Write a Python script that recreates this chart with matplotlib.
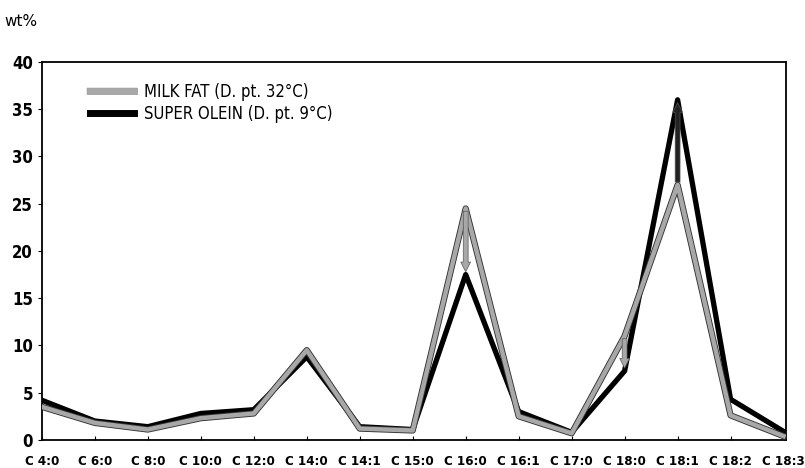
import matplotlib.pyplot as plt
import matplotlib.patheffects as pe
import numpy as np

acids = ["C 4:0", "C 6:0", "C 8:0", "C 10:0", "C 12:0", "C 14:0", "C 14:1", "C 15:0",
         "C 16:0", "C 16:1", "C 17:0", "C 18:0", "C 18:1", "C 18:2", "C 18:3"]
milk_fat = [3.5, 1.8, 1.1, 2.3, 2.8, 9.5, 1.2, 1.0, 24.5, 2.5, 0.7, 11.0, 27.0, 2.6, 0.4]
super_olein = [4.2, 2.0, 1.4, 2.8, 3.2, 8.8, 1.4, 1.1, 17.5, 3.0, 0.8, 7.3, 36.0, 4.3, 0.9]
arrow_idx = [8, 11, 12]

x = np.arange(len(acids))
fig = plt.figure(figsize=(8.05, 4.68), dpi=100)
ax = fig.add_axes([0.052, 0.06, 0.924, 0.8075])

gray_fx = [pe.Stroke(linewidth=4.5, foreground="#333333"), pe.Normal()]
ax.plot(x, milk_fat, color="#a8a8a8", lw=3.2, solid_joinstyle="round",
        path_effects=gray_fx, label="MILK FAT (D. pt. 32°C)", zorder=3)
ax.plot(x, super_olein, color="black", lw=3.8, solid_joinstyle="round",
        label="SUPER OLEIN (D. pt. 9°C)", zorder=2)

for i in arrow_idx:
    col = "#a8a8a8" if super_olein[i] < milk_fat[i] else "#222222"
    ax.annotate("", xy=(x[i], super_olein[i]), xytext=(x[i], milk_fat[i]),
                arrowprops=dict(arrowstyle="simple,head_width=0.7,head_length=0.7,tail_width=0.35",
                                color=col, lw=0.5, ec="#555555"), zorder=4)

ax.set_xlim(0, 14.04)
ax.set_ylim(0, 40)
ax.set_yticks(range(0, 41, 5))
ax.set_xticks(x)
ax.set_xticklabels(acids, family="DejaVu Sans", fontstretch="condensed",
                   fontsize=9.5, fontweight="bold")
ax.tick_params(axis="y", labelsize=12, length=3, direction="out")
ax.tick_params(axis="x", length=3, direction="in", pad=11)
for lab in ax.get_yticklabels():
    lab.set_fontweight("bold")
    lab.set_fontstretch("condensed")
for s in ax.spines.values():
    s.set_linewidth(1.3)

leg = ax.legend(loc="upper left", bbox_to_anchor=(0.045, 0.985), frameon=False,
                handlelength=2.6, handletextpad=0.6, labelspacing=0.25,
                prop={"family": "DejaVu Sans", "stretch": "condensed", "size": 12})
for h in leg.get_lines():
    h.set_linewidth(5)

fig.text(0.006, 0.955, "wt%", fontsize=11, va="center", ha="left")

fig.savefig("out.png", dpi=100)
